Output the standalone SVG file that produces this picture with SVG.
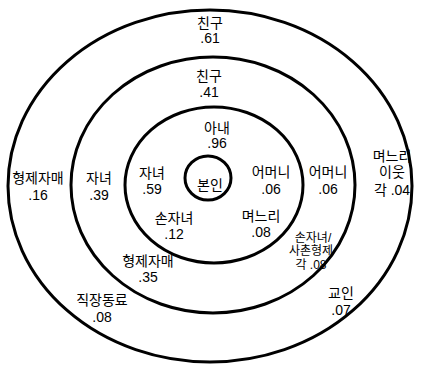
<svg xmlns="http://www.w3.org/2000/svg" width="421" height="370" viewBox="0 0 421 370">
<style>
.ring{fill:none;stroke:#000;stroke-width:3}
text{font-family:"Liberation Sans","Noto Sans CJK KR",sans-serif;font-size:14px;fill:#000;text-anchor:middle}
.sm{font-size:12px}
</style>
<rect width="421" height="370" fill="#fff"/>
<g id="rings">
<ellipse id="ring4" class="ring" cx="210" cy="186" rx="202" ry="176"/>
<ellipse id="ring3" class="ring" cx="213" cy="185" rx="142" ry="128"/>
<ellipse id="ring2" class="ring" cx="214" cy="185" rx="89" ry="78"/>
<ellipse id="ring1" class="ring" cx="208" cy="178" rx="23" ry="22"/>
</g>
<g id="self"><text x="210" y="190" font-size="15">본인</text></g>
<g id="n-wife"><text x="217" y="133">아내</text><text x="217" y="148">.96</text></g>
<g id="n-child1"><text x="152" y="178">자녀</text><text x="152" y="194">.59</text></g>
<g id="n-mother1"><text x="271" y="177">어머니</text><text x="271" y="194">.06</text></g>
<g id="n-grand1"><text x="174" y="223">손자녀</text><text x="174" y="239">.12</text></g>
<g id="n-dil1"><text x="261" y="221">며느리</text><text x="261" y="237">.08</text></g>
<g id="n-friend2"><text x="209" y="81">친구</text><text x="209" y="97">.41</text></g>
<g id="n-child2"><text x="99" y="183">자녀</text><text x="99" y="200">.39</text></g>
<g id="n-mother2"><text x="328" y="177">어머니</text><text x="328" y="194">.06</text></g>
<g id="n-sib2"><text x="148" y="266">형제자매</text><text x="148" y="282">.35</text></g>
<g id="n-grand2"><text class="sm" x="313" y="242">손자녀/</text><text class="sm" x="311" y="255">사촌형제</text><text class="sm" x="311" y="269">각 .08</text></g>
<g id="n-friend3"><text x="210" y="28">친구</text><text x="210" y="43">.61</text></g>
<g id="n-sib3"><text x="38" y="183">형제자매</text><text x="38" y="200">.16</text></g>
<g id="n-dil3"><text x="392" y="161">며느리</text><text x="392" y="177">이웃</text><text x="392" y="195">각 .04</text></g>
<g id="n-cow3"><text x="102" y="305">직장동료</text><text x="102" y="322">.08</text></g>
<g id="n-church3"><text x="341" y="298">교인</text><text x="341" y="315">.07</text></g>
</svg>
